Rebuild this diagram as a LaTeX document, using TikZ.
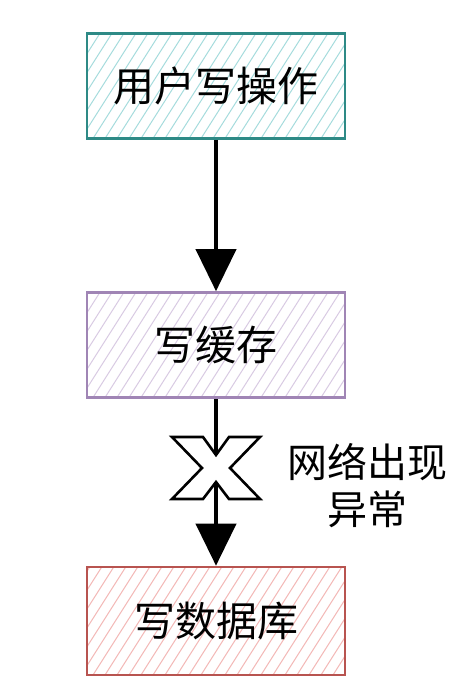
\documentclass[tikz,border=0pt]{standalone}
\usepackage{fontspec}
\newfontfamily\cjk{Noto Sans CJK SC}
\usetikzlibrary{arrows.meta}
\definecolor{tealB}{HTML}{2E8A86}
\definecolor{tealH}{HTML}{A6DCDD}
\definecolor{purpB}{HTML}{A085B5}
\definecolor{purpH}{HTML}{D9CBE3}
\definecolor{redB}{HTML}{B85450}
\definecolor{redH}{HTML}{F3B8B6}
\tikzset{
  hatchbox/.style 2 args={draw=#1, line width=2.6pt, fill=white,
    minimum width=258pt, minimum height=105pt, inner sep=0pt,
    font=\cjk\fontsize{41}{48}\selectfont, text=black,
    path picture={
      \foreach \i in {-90,-78,...,270}
        \draw[#2, line width=1pt] ([xshift=\i pt]path picture bounding box.south west) -- ++(70pt,110pt);
    }},
  flow/.style={line width=4pt, -{Triangle[width=40pt,length=42pt]}},
  xmark/.style={draw=black, line width=2.6pt, fill=white, line join=miter},
  lbl/.style={font=\cjk\fontsize{40}{47}\selectfont, align=center, text=black}
}
\begin{document}
\begin{tikzpicture}[x=1pt,y=-1pt]
\useasboundingbox[fill=white] (0,0) rectangle (470,691);
\node[hatchbox={tealB}{tealH}] (b1) at (216,86) {用户写操作};
\node[hatchbox={purpB}{purpH}] (b2) at (216,345) {写缓存};
\node[hatchbox={redB}{redH}, minimum height=108pt] (b3) at (216,621) {写数据库};
\draw[flow] (b1) -- (b2);
\draw[flow] (b2) -- (b3);
\coordinate (xc) at (216,468);
\draw[xmark] (xc) ++(-44,-31) -- ++(31,0) -- ++(13,18) -- ++(13,-18) -- ++(31,0)
  -- ++(-30,31) -- ++(30,31) -- ++(-31,0) -- ++(-13,-17) -- ++(-13,17) -- ++(-31,0)
  -- ++(30,-31) -- cycle;
\node[lbl] (net) at (367,486) {网络出现\\异常};
\end{tikzpicture}
\end{document}
